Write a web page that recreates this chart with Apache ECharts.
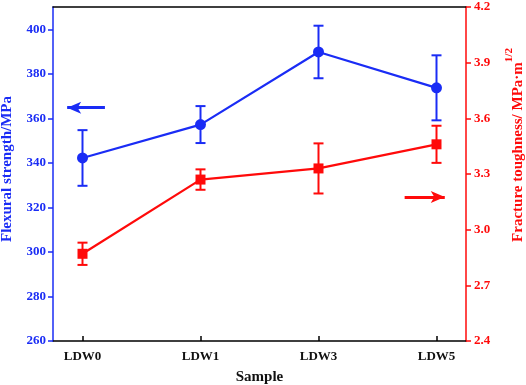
<!DOCTYPE html>
<html>
<head>
<meta charset="utf-8">
<script src="https://cdn.jsdelivr.net/npm/echarts@6/dist/echarts.min.js"></script>
<style>html,body{margin:0;padding:0;background:#fff}#c{width:526px;height:385px}</style>
</head>
<body>
<div id="c"></div>
<script>
var categories = ['LDW0', 'LDW1', 'LDW3', 'LDW5'];
var flexural = [342.2, 357.2, 389.8, 373.7];
var flexuralErr = [12.5, 8.3, 11.8, 14.6];
var toughness = [2.87, 3.27, 3.33, 3.46];
var toughnessErr = [0.06, 0.055, 0.135, 0.10];
var leftTicks = [260, 280, 300, 320, 340, 360, 380, 400];
var rightTicks = [2.4, 2.7, 3.0, 3.3, 3.6, 3.9, 4.2];
var catIdx = [0, 1, 2, 3];

var BLUE = '#1a2cf5';
var RED = '#ff0a0a';
var FONT = 'Liberation Serif';

function pts(vals) { return vals.map(function (v, i) { return [i, v]; }); }
function errs(vals, e) { return vals.map(function (v, i) { return [i, v - e[i], v + e[i]]; }); }

function errRender(color) {
  return function (params, api) {
    var x = api.value(0);
    var lo = api.coord([x, api.value(1)]);
    var hi = api.coord([x, api.value(2)]);
    var w = 5;
    var st = { stroke: color, lineWidth: 2, fill: null };
    return {
      type: 'group',
      children: [
        { type: 'line', shape: { x1: lo[0], y1: lo[1], x2: hi[0], y2: hi[1] }, style: st },
        { type: 'line', shape: { x1: lo[0] - w, y1: lo[1], x2: lo[0] + w, y2: lo[1] }, style: st },
        { type: 'line', shape: { x1: hi[0] - w, y1: hi[1], x2: hi[0] + w, y2: hi[1] }, style: st }
      ]
    };
  };
}

var chart = echarts.init(document.getElementById('c'));
chart.setOption({
  animation: false,
  backgroundColor: '#fff',
  grid: { left: 53, right: 60, top: 7, bottom: 44, containLabel: false, outerBoundsMode: 'none' },
  xAxis: [{
    type: 'value', min: -0.25, max: 3.25,
    name: 'Sample', nameLocation: 'middle', nameGap: 29,
    nameTextStyle: { fontFamily: FONT, fontWeight: 'bold', fontSize: 15, color: '#111' },
    axisLine: { onZero: false, lineStyle: { color: '#000', width: 1.5 } },
    axisTick: { inside: true, length: 5, customValues: catIdx, lineStyle: { color: '#000', width: 1.5 } },
    axisLabel: { customValues: catIdx, margin: 9, fontFamily: FONT, fontWeight: 'bold', fontSize: 13, color: '#111',
      formatter: function (v) { return categories[Math.round(v)] || ''; } },
    splitLine: { show: false }
  }, {
    type: 'value', position: 'top', min: -0.25, max: 3.25,
    axisLine: { show: true, onZero: false, lineStyle: { color: '#000', width: 1.5 } },
    axisTick: { show: false }, axisLabel: { show: false }, splitLine: { show: false }
  }],
  yAxis: [{
    type: 'value', min: 260, max: 410, interval: 20, position: 'left',
    name: 'Flexural strength/MPa', nameLocation: 'middle', nameGap: 38, nameRotate: 90,
    nameTextStyle: { fontFamily: FONT, fontWeight: 'bold', fontSize: 15, color: BLUE, padding: [0, 0, 0, 10] },
    axisLine: { show: true, onZero: false, lineStyle: { color: BLUE, width: 1.5 } },
    axisTick: { show: true, length: 5, customValues: leftTicks, lineStyle: { color: BLUE, width: 1.5 } },
    axisLabel: { customValues: leftTicks, margin: 7, fontFamily: FONT, fontWeight: 'bold', fontSize: 13, color: BLUE },
    splitLine: { show: false }
  }, {
    type: 'value', min: 2.4, max: 4.2, interval: 0.3, position: 'right',
    name: '{a|Fracture toughness/ MPa·m}{s|1/2}', nameLocation: 'middle', nameGap: 38, nameRotate: 90,
    nameTextStyle: {
      fontFamily: FONT, fontWeight: 'bold', fontSize: 15, color: RED, padding: [0, 0, 0, 58],
      rich: {
        a: { fontFamily: FONT, fontWeight: 'bold', fontSize: 15, color: RED, lineHeight: 22, verticalAlign: 'bottom' },
        s: { fontFamily: FONT, fontWeight: 'bold', fontSize: 11, color: RED, lineHeight: 22, verticalAlign: 'top' }
      }
    },
    axisLine: { show: true, onZero: false, lineStyle: { color: RED, width: 1.5 } },
    axisTick: { show: true, length: 5, customValues: rightTicks, lineStyle: { color: RED, width: 1.5 } },
    axisLabel: { customValues: rightTicks, margin: 8, fontFamily: FONT, fontWeight: 'bold', fontSize: 13, color: RED,
      formatter: function (v) { return v.toFixed(1); } },
    splitLine: { show: false }
  }],
  series: [{
    type: 'line', name: 'flex', xAxisIndex: 0, yAxisIndex: 0, data: pts(flexural),
    symbol: 'circle', symbolSize: 11, lineStyle: { color: BLUE, width: 2.2 }, itemStyle: { color: BLUE },
    z: 3,
    markLine: {
      silent: true, symbol: ['none', 'arrow'], symbolSize: [9, 14], label: { show: false },
      lineStyle: { color: BLUE, width: 3, type: 'solid' },
      data: [[{ coord: [0.19, 364.8] }, { coord: [-0.13, 364.8] }]]
    }
  }, {
    type: 'custom', xAxisIndex: 0, yAxisIndex: 0, data: errs(flexural, flexuralErr),
    renderItem: errRender(BLUE), z: 2
  }, {
    type: 'line', name: 'tough', xAxisIndex: 0, yAxisIndex: 1, data: pts(toughness),
    symbol: 'rect', symbolSize: 10, lineStyle: { color: RED, width: 2.2 }, itemStyle: { color: RED },
    z: 3,
    markLine: {
      silent: true, symbol: ['none', 'arrow'], symbolSize: [9, 14], label: { show: false },
      lineStyle: { color: RED, width: 3, type: 'solid' },
      data: [[{ coord: [2.73, 3.176] }, { coord: [3.07, 3.176] }]]
    }
  }, {
    type: 'custom', xAxisIndex: 0, yAxisIndex: 1, data: errs(toughness, toughnessErr),
    renderItem: errRender(RED), z: 2
  }]
});
</script>
</body>
</html>
